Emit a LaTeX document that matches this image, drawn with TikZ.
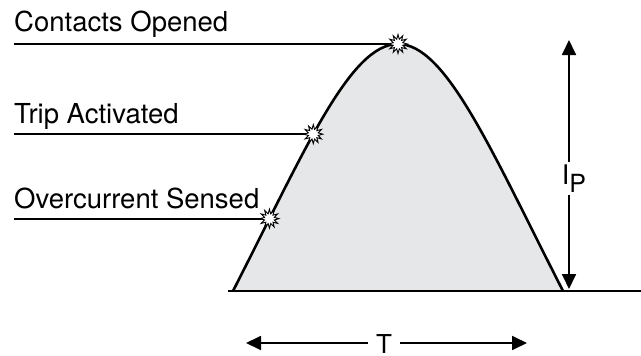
\documentclass[tikz,border=0pt]{standalone}
\usepackage{fontspec}
\setmainfont{TeX Gyre Heros}
\usetikzlibrary{shapes.geometric,arrows.meta}
\definecolor{pulsefill}{HTML}{E6E7E8}
\tikzset{
  lbl/.style={anchor=base west, inner sep=0pt, font=\fontsize{27.5}{30}\selectfont},
  leader/.style={line width=1.8pt},
  spark/.style={star, star points=12, star point ratio=1.9, minimum size=19pt, inner sep=0pt, draw=black, fill=white, line width=0.9pt},
  dimarr/.style={line width=1.8pt, -{Triangle[length=15pt,width=14pt]}},
  curveline/.style={line width=2.6pt}
}
\begin{document}
\begin{tikzpicture}[x=1pt,y=-1pt]
\useasboundingbox (0,0) rectangle (641,356);
% pulse
\fill[pulsefill] (233,291) .. controls (305,150) and (350,44) .. (398,44)
  .. controls (446,44) and (491,150) .. (563,291) -- cycle;
\draw[curveline] (233,291) .. controls (305,150) and (350,44) .. (398,44)
  node[pos=0.18, coordinate] (p1) {}
  node[pos=0.43, coordinate] (p2) {}
  .. controls (446,44) and (491,150) .. (563,291);
\coordinate (p3) at (398,44);
% baseline
\coordinate (b0) at (228,291);
\coordinate (b1) at (641,291);
\draw[line width=2.4pt] (b0) -- (b1);
% labels
\node[lbl] (t1) at (14,31) {Contacts Opened};
\node[lbl] (t2) at (14,123) {Trip Activated};
\node[lbl] (t3) at (14,208) {Overcurrent Sensed};
\coordinate (lx) at (14,0);
\draw[leader] (lx |- p3) -- (p3);
\draw[leader] (lx |- p2) -- (p2);
\draw[leader] (lx |- p1) -- (p1);
\node[spark] (s3) at (p3) {};
\node[spark] (s2) at (p2) {};
\node[spark] (s1) at (p1) {};
% Ip
\coordinate (iptop) at (569,40);
\coordinate (ipbot) at (569,289);
\node[inner sep=0pt, minimum height=33pt, font=\fontsize{27}{30}\selectfont] (ip) at (574,178.5) {I\raisebox{-8pt}{\fontsize{25}{28}\selectfont P}};
\draw[dimarr] (iptop |- ip.north) -- (iptop);
\draw[dimarr] (ipbot |- ip.south) -- (ipbot);
% T
\coordinate (tl) at (246,343);
\coordinate (tr) at (527,343);
\node[anchor=base, inner ysep=0pt, inner xsep=8pt, font=\fontsize{26}{28}\selectfont] (T) at (384,353.5) {T};
\draw[dimarr] (T.west |- tl) -- (tl);
\draw[dimarr] (T.east |- tr) -- (tr);
\end{tikzpicture}
\end{document}
